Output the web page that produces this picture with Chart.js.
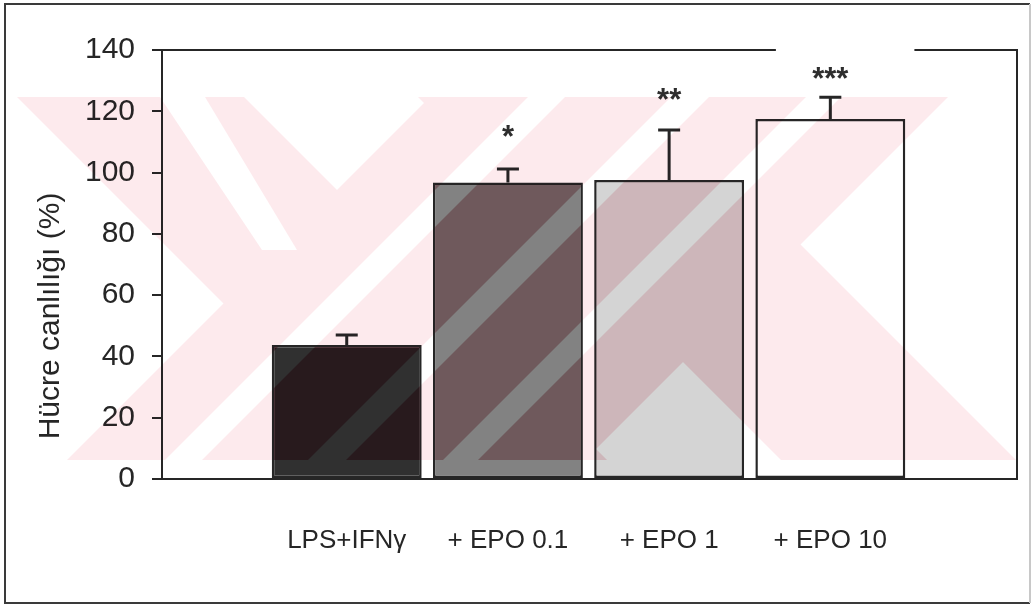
<!DOCTYPE html>
<html>
<head>
<meta charset="utf-8">
<script src="https://cdn.jsdelivr.net/npm/chart.js@4.4.1/dist/chart.umd.min.js"></script>
<style>
  html, body { margin: 0; padding: 0; background: #fff; }
  #wrap { width: 1033px; height: 605px; }
</style>
</head>
<body>
<div id="wrap"><canvas id="chart" width="1033" height="605"></canvas></div>
<script>
// values
const categories = ['LPS+IFNγ', '+ EPO 0.1', '+ EPO 1', '+ EPO 10'];
const viability = [43.7, 96.8, 97.6, 117.5];
const errorUp = [3.3, 4.4, 16.3, 7.1];
const stars = ['', '*', '**', '***'];
const starLevel = [null, 113.9, 125.7, 132.8];
const yTicks = [0, 20, 40, 60, 80, 100, 120, 140];

const barFills = ['#303030', '#828282', '#d4d4d4', '#ffffff'];
const barTints = ['rgb(210,150,164)', 'rgb(220,190,194)', 'rgb(249,240,241)', null];
const ink = '#262626';
const font = '"Liberation Sans", Arial, sans-serif';

// error bars (upward only) + significance stars
const errorBars = {
  id: 'errorBars',
  afterDatasetsDraw(chart) {
    const ctx = chart.ctx;
    const y = chart.scales.y;
    const meta = chart.getDatasetMeta(0);
    ctx.save();
    ctx.strokeStyle = ink;
    ctx.lineWidth = 3;
    meta.data.forEach((bar, i) => {
      const top = y.getPixelForValue(viability[i] + errorUp[i]);
      ctx.beginPath();
      ctx.moveTo(bar.x, bar.y);
      ctx.lineTo(bar.x, top);
      ctx.moveTo(bar.x - 11, top);
      ctx.lineTo(bar.x + 11, top);
      ctx.stroke();
      if (stars[i]) {
        ctx.fillStyle = '#2e2e2e';
        ctx.font = 'bold 31px ' + font;
        ctx.textAlign = 'center';
        ctx.textBaseline = 'middle';
        ctx.fillText(stars[i], bar.x, y.getPixelForValue(starLevel[i]) + 8);
      }
    });
    ctx.restore();
  }
};

// pink X watermark of the scanned page
function watermarkMask(W, H) {
  const off = document.createElement('canvas');
  off.width = W; off.height = H;
  const o = off.getContext('2d');
  const y0 = 97, y1 = 460;
  const quad = (tl, tr, t, bl, br, b) => {
    o.beginPath();
    o.moveTo(tl, t); o.lineTo(tr, t); o.lineTo(br, b); o.lineTo(bl, b);
    o.closePath(); o.fill();
  };
  const slash = (p, q) => quad(p - y0, q - y0, y0, p - y1, q - y1, y1);   // x + y in [p, q]
  const back = (p, q) => quad(p + y0, q + y0, y0, p + y1, q + y1, y1);    // x - y in [p, q]
  o.fillStyle = '#000';
  slash(527, 1045);
  back(-80, 147);
  back(321, 556);
  o.globalCompositeOperation = 'destination-out';
  [[625, 662], [768, 806], [903, 938]].forEach(([p, q]) => slash(p, q));
  quad(160, 205, y0, 262, 297, 250);
  o.globalCompositeOperation = 'destination-in';
  o.fillRect(15, y0, 1005, y1 - y0);
  return off;
}

function tinted(mask, color) {
  const c = document.createElement('canvas');
  c.width = mask.width; c.height = mask.height;
  const g = c.getContext('2d');
  g.drawImage(mask, 0, 0);
  g.globalCompositeOperation = 'source-in';
  g.fillStyle = color;
  g.fillRect(0, 0, c.width, c.height);
  return c;
}

// plot frame, outer border, y title, watermark
const decor = {
  id: 'decor',
  afterDraw(chart) {
    const ctx = chart.ctx;
    const a = chart.chartArea;
    const W = chart.width, H = chart.height;
    ctx.save();
    ctx.strokeStyle = ink;
    ctx.lineWidth = 2;
    ctx.beginPath();
    ctx.moveTo(a.left - 10, a.top);
    ctx.lineTo(a.left + (a.right - a.left) * 0.718, a.top);
    ctx.moveTo(a.left + (a.right - a.left) * 0.88, a.top);
    ctx.lineTo(a.right, a.top);
    ctx.lineTo(a.right, a.bottom);
    ctx.stroke();

    ctx.strokeStyle = '#3a3a3a';
    ctx.beginPath();
    ctx.moveTo(W - 3, 4);
    ctx.lineTo(5, 4);
    ctx.lineTo(5, H - 2);
    ctx.lineTo(W - 3, H - 2);
    ctx.stroke();
    ctx.strokeStyle = '#c8c8c8';
    ctx.beginPath();
    ctx.moveTo(W - 3, 4);
    ctx.lineTo(W - 3, H - 2);
    ctx.stroke();

    ctx.fillStyle = ink;
    ctx.font = '30px ' + font;
    ctx.textAlign = 'center';
    ctx.textBaseline = 'alphabetic';
    ctx.translate(59, 316);
    ctx.rotate(-Math.PI / 2);
    ctx.fillText('Hücre canlılığı (%)', 0, 0);
    ctx.restore();

    const mask = watermarkMask(W, H);
    ctx.save();
    ctx.globalCompositeOperation = 'multiply';
    ctx.drawImage(tinted(mask, 'rgb(253,234,237)'), 0, 0);
    const meta = chart.getDatasetMeta(0);
    meta.data.forEach((bar, i) => {
      if (!barTints[i]) return;
      const p = bar.getProps(['x', 'y', 'base', 'width'], true);
      ctx.save();
      ctx.beginPath();
      ctx.rect(p.x - p.width / 2 + 2, p.y + 2, p.width - 4, p.base - p.y - 3);
      ctx.clip();
      ctx.drawImage(tinted(mask, barTints[i]), 0, 0);
      ctx.restore();
    });
    ctx.restore();
  }
};

new Chart(document.getElementById('chart'), {
  type: 'bar',
  data: {
    datasets: [{
      data: viability.map((v, i) => ({ x: i + 1, y: v })),
      backgroundColor: barFills,
      borderColor: ink,
      borderWidth: 2.5,
      borderSkipped: false,
      categoryPercentage: 1,
      barPercentage: 0.93
    }]
  },
  options: {
    responsive: false,
    animation: false,
    events: [],
    layout: { padding: { left: 0, right: 16, top: 50, bottom: 0 } },
    plugins: { legend: { display: false }, tooltip: { enabled: false } },
    scales: {
      x: {
        type: 'linear',
        offset: false,
        min: -0.146,
        max: 5.158,
        afterBuildTicks: s => { s.ticks = categories.map((c, i) => ({ value: i + 1 })); },
        afterFit: s => { s.height = 126; },
        grid: { display: false, drawTicks: false },
        border: { display: true, color: ink, width: 2 },
        ticks: {
          autoSkip: false,
          maxRotation: 0,
          padding: 46,
          color: ink,
          font: { family: font, size: 26 },
          callback: v => categories[v - 1] || ''
        }
      },
      y: {
        min: 0,
        max: 140,
        afterBuildTicks: s => { s.ticks = yTicks.map(v => ({ value: v })); },
        afterFit: s => { s.width = 162; },
        grid: { display: true, drawOnChartArea: false, drawTicks: true, tickLength: 10, color: ink, lineWidth: 2 },
        border: { display: true, color: ink, width: 2 },
        ticks: {
          padding: 17,
          color: ink,
          font: { family: font, size: 30 }
        }
      }
    }
  },
  plugins: [errorBars, decor]
});
</script>
</body>
</html>
